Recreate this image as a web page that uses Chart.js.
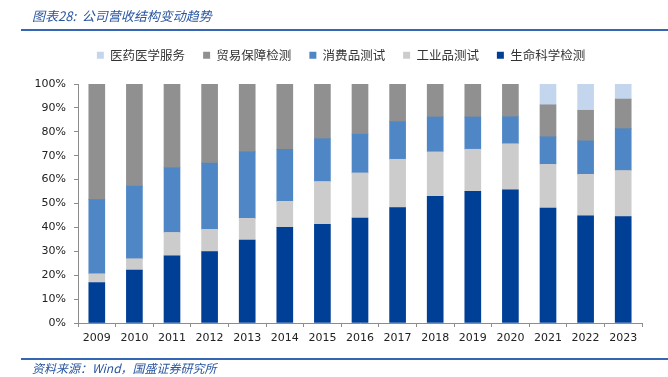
<!DOCTYPE html>
<html>
<head>
<meta charset="utf-8">
<script src="https://cdn.jsdelivr.net/npm/chart.js@4.4.0/dist/chart.umd.min.js"></script>
<style>
  html, body { margin: 0; padding: 0; background: #fff; }
  #wrap { position: relative; width: 668px; height: 377px; overflow: hidden; }
  #chart { position: absolute; left: 0; top: 0; }
  .cap { position: absolute; font-family: "Noto Sans CJK SC", sans-serif; font-style: italic; color: #2a56a0; white-space: nowrap; }
  #title { left: 32px; top: 6px; font-size: 13px; }
  #source { left: 32px; top: 358px; font-size: 12px; }
  .rule { position: absolute; left: 21px; right: 0; height: 2px; background: #3566b3; }
</style>
</head>
<body>
<div id="wrap">
  <canvas id="chart" width="668" height="377"></canvas>
  <div id="title" class="cap">图表28:&nbsp; 公司营收结构变动趋势</div>
  <div class="rule" style="top:29px"></div>
  <div class="rule" style="top:358px"></div>
  <div id="source" class="cap" style="top:359px">资料来源：Wind，国盛证券研究所</div>
</div>
<script>
// Data (percent of revenue)
const years = ['2009', '2010', '2011', '2012', '2013', '2014', '2015', '2016', '2017', '2018', '2019', '2020', '2021', '2022', '2023'];
const lifeScience = [16.9, 22.1, 28.1, 29.9, 34.7, 40.0, 41.3, 43.9, 48.3, 53.0, 55.1, 55.7, 48.1, 44.8, 44.5];
const industrial  = [3.7, 4.8, 9.8, 9.3, 9.1, 10.9, 17.9, 18.9, 20.2, 18.6, 17.6, 19.3, 18.3, 17.4, 19.3];
const consumer    = [31.0, 30.4, 27.0, 27.7, 27.8, 21.8, 17.9, 16.2, 15.8, 14.6, 13.5, 11.3, 11.5, 14.0, 17.5];
const trade       = [48.4, 42.7, 35.1, 33.1, 28.4, 27.3, 22.9, 21.0, 15.7, 13.8, 13.8, 13.7, 13.4, 12.8, 12.4];
const medical     = [0, 0, 0, 0, 0, 0, 0, 0, 0, 0, 0, 0, 8.7, 11.0, 6.3];
const yTicks = [0, 10, 20, 30, 40, 50, 60, 70, 80, 90, 100];

const numFont = { family: 'DejaVu Sans', size: 11 };
const axisGray = '#8c8c8c';

// fix legend height and nudge it right so it sits where the reference has it
const legendTweak = {
    id: 'legendTweak',
    beforeInit(chart) {
        const lg = chart.legend;
        const fit = lg.fit;
        lg.fit = function () {
            fit.call(lg);
            this.height = 53;
        };
        const draw = lg.draw;
        lg.draw = function () {
            this.left += 10; this.right += 10;
            draw.call(lg);
            this.left -= 10; this.right -= 10;
        };
    }
};

const ctx = document.getElementById('chart').getContext('2d');
const chart = new Chart(ctx, {
    type: 'bar',
    data: {
        labels: years,
        datasets: [
            { label: '生命科学检测', data: lifeScience, backgroundColor: '#003f96' },
            { label: '工业品测试', data: industrial, backgroundColor: '#cccccc' },
            { label: '消费品测试', data: consumer, backgroundColor: '#4f86c6' },
            { label: '贸易保障检测', data: trade, backgroundColor: '#909090' },
            { label: '医药医学服务', data: medical, backgroundColor: '#c4d6ee' }
        ]
    },
    options: {
        responsive: false,
        animation: false,
        devicePixelRatio: 1,
        layout: { padding: { left: 20, right: 26, top: 31, bottom: 24 } },
        datasets: { bar: { barThickness: 16 } },
        plugins: {
            tooltip: { enabled: false },
            legend: {
                position: 'top',
                reverse: true,
                labels: {
                    boxWidth: 7,
                    boxHeight: 7,
                    padding: 18,
                    color: '#333',
                    font: { family: 'Noto Sans CJK SC', size: 12.5 }
                }
            }
        },
        scales: {
            x: {
                stacked: true,
                afterFit(scale) { scale.height = 30; },
                grid: { drawOnChartArea: false, tickLength: 4, color: axisGray, offset: true },
                border: { color: axisGray },
                ticks: { color: '#222', font: numFont, padding: 5, maxRotation: 0 }
            },
            y: {
                stacked: true,
                min: 0,
                max: 100,
                afterFit(scale) { scale.width = 58; },
                afterBuildTicks(scale) { scale.ticks = yTicks.map(v => ({ value: v })); },
                grid: { drawOnChartArea: false, tickLength: 4, color: axisGray },
                border: { color: axisGray },
                ticks: { color: '#222', font: numFont, padding: 8, callback: v => v + '%' }
            }
        }
    },
    plugins: [legendTweak]
});
</script>
</body>
</html>
